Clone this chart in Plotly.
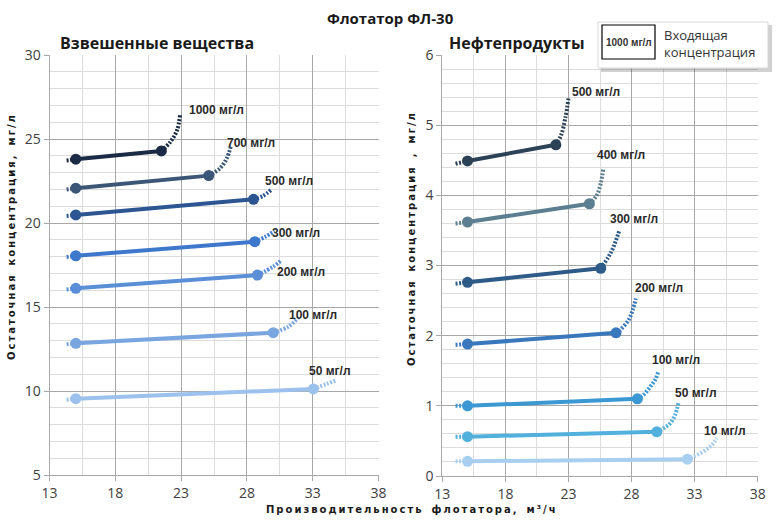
import plotly.graph_objects as go

# --- data ---
# Взвешенные вещества (left panel)
ss_labels = ["1000 мг/л", "700 мг/л", "500 мг/л", "300 мг/л", "200 мг/л", "100 мг/л", "50 мг/л"]
ss_colors = ["#1b2b45", "#3b5677", "#2c5592", "#3d78cc", "#5a8fd8", "#7aa6e0", "#9cc1ec"]
ss_stub_x = [14.3, 14.3, 14.3, 14.3, 14.3, 14.3, 14.3]
ss_stub_y = [23.72, 22.0, 20.42, 17.98, 16.04, 12.78, 9.48]
ss_x0 = [15, 15, 15, 15, 15, 15, 15]
ss_y0 = [23.8, 22.07, 20.48, 18.05, 16.11, 12.84, 9.54]
ss_x1 = [21.5, 25.1, 28.5, 28.6, 28.8, 30.0, 33.05]
ss_y1 = [24.29, 22.82, 21.41, 18.89, 16.9, 13.47, 10.12]
ss_tail_x = [[22.2, 22.7, 22.92], [25.96, 26.47, 26.79], [29.2, 29.88], [29.37, 30.1],
             [30.0, 30.64], [31.15, 31.91], [34.06, 34.82]]
ss_tail_y = [[24.84, 25.54, 26.43], [23.26, 23.85, 24.6], [21.6, 22.0], [19.17, 19.52],
             [17.4, 17.8], [13.83, 14.38], [10.42, 10.65]]
ss_lab_x = [23.45, 26.32, 29.21, 29.74, 30.12, 31.04, 32.56]
ss_lab_y = [26.73, 24.76, 22.5, 19.4, 17.1, 14.52, 11.19]

# Нефтепродукты (right panel)
np_labels = ["500 мг/л", "400 мг/л", "300 мг/л", "200 мг/л", "100 мг/л", "50 мг/л", "10 мг/л"]
np_colors = ["#2c4256", "#5b7e90", "#2d5a86", "#3a78bd", "#3b98d3", "#52b0dc", "#a9cff0"]
np_stub_x = [14.05, 14.05, 14.05, 14.05, 14.05, 14.05, 14.05]
np_stub_y = [4.45, 3.6, 2.74, 1.87, 1.0, 0.56, 0.21]
np_x0 = [15, 15, 15, 15, 15, 15, 15]
np_y0 = [4.49, 3.62, 2.76, 1.88, 1.0, 0.56, 0.21]
np_x1 = [22.0, 24.66, 25.56, 26.77, 28.46, 30.0, 32.43]
np_y1 = [4.72, 3.88, 2.96, 2.04, 1.1, 0.63, 0.24]
np_tail_x = [[22.4, 22.75, 23.0], [25.24, 25.56, 25.77], [26.16, 26.54, 27.05],
             [27.09, 27.75, 28.1, 28.34], [28.94, 29.47, 29.87, 30.13],
             [30.53, 31.06, 31.45, 31.71], [32.9, 33.7, 34.36, 34.76]]
np_tail_y = [[4.85, 5.1, 5.38], [4.0, 4.17, 4.39], [3.12, 3.25, 3.51],
             [2.08, 2.22, 2.37, 2.53], [1.155, 1.27, 1.37, 1.49],
             [0.68, 0.75, 0.87, 1.04], [0.275, 0.35, 0.44, 0.54]]
np_lab_x = [23.13, 25.11, 26.14, 28.12, 29.47, 31.3, 33.59]
np_lab_y = [5.47, 4.575, 3.66, 2.68, 1.65, 1.18, 0.64]

x_ticks = [13, 18, 23, 28, 33, 38]

W, H = 780, 520
DOT = "2px,1.6px"


def px_x(p):
    return p / W


def px_y(p):
    return 1 - p / H


def spaced(s):
    # wide letter spacing like the original axis titles
    return "\u2002\u2002".join("\u2009".join(w) for w in s.split(" "))


fig = go.Figure()


def add_panel(xa, ya, colors, stub_x, stub_y, x0, y0, x1, y1, tail_x, tail_y, labels, lab_x, lab_y):
    for i in range(len(labels)):
        c = colors[i]
        fig.add_trace(go.Scatter(x=[stub_x[i], x0[i]], y=[stub_y[i], y0[i]], mode="lines",
                                 line=dict(color=c, width=4, dash=DOT), xaxis=xa, yaxis=ya,
                                 hoverinfo="skip"))
        fig.add_trace(go.Scatter(x=[x1[i]] + tail_x[i], y=[y1[i]] + tail_y[i], mode="lines",
                                 line=dict(color=c, width=4, dash=DOT, shape="spline"),
                                 xaxis=xa, yaxis=ya, hoverinfo="skip"))
        fig.add_trace(go.Scatter(x=[x0[i], x1[i]], y=[y0[i], y1[i]], mode="lines+markers",
                                 line=dict(color=c, width=4), marker=dict(size=11, color=c),
                                 xaxis=xa, yaxis=ya, name=labels[i]))
        fig.add_annotation(x=lab_x[i], y=lab_y[i], xref=xa, yref=ya, text="<b>" + labels[i] + "</b>",
                           showarrow=False, xanchor="left", yanchor="middle",
                           font=dict(family="Liberation Sans", size=12, color="#2a2a2a"))


add_panel("x", "y", ss_colors, ss_stub_x, ss_stub_y, ss_x0, ss_y0, ss_x1, ss_y1,
          ss_tail_x, ss_tail_y, ss_labels, ss_lab_x, ss_lab_y)
add_panel("x2", "y2", np_colors, np_stub_x, np_stub_y, np_x0, np_y0, np_x1, np_y1,
          np_tail_x, np_tail_y, np_labels, np_lab_x, np_lab_y)

tick_font = dict(family="Open Sans", size=14, color="#404040")
axis_common = dict(showgrid=True, gridcolor="#a8a8a8", gridwidth=1, zeroline=False,
                   showline=True, linecolor="#a8a8a8", ticks="outside", ticklen=5,
                   tickcolor="#a8a8a8", tickfont=tick_font, automargin=False)

fig.update_layout(
    width=W, height=H, autosize=False,
    margin=dict(l=0, r=0, t=0, b=0, pad=0),
    paper_bgcolor="white", plot_bgcolor="white",
    showlegend=False,
    xaxis=dict(domain=[px_x(49.5), px_x(378.5)], range=[13, 38], tickvals=x_ticks, anchor="y",
               minor=dict(dtick=2.5, tick0=13, showgrid=True, gridcolor="#dcdcdc"), **axis_common),
    yaxis=dict(domain=[px_y(475), px_y(55)], range=[5, 30], dtick=5, tick0=5, anchor="x",
               minor=dict(dtick=1, showgrid=True, gridcolor="#dcdcdc"), **axis_common),
    xaxis2=dict(domain=[px_x(442.3), px_x(757.7)], range=[13, 38], tickvals=x_ticks, anchor="y2",
                minor=dict(dtick=2.5, tick0=13, showgrid=True, gridcolor="#dcdcdc"), **axis_common),
    yaxis2=dict(domain=[px_y(476), px_y(55)], range=[0, 6], dtick=1, tick0=0, anchor="x2",
                minor=dict(dtick=0.2, showgrid=True, gridcolor="#dcdcdc"), **axis_common),
)


def note(x, y, text, font, **kw):
    opts = dict(xanchor="center", yanchor="middle")
    opts.update(kw)
    fig.add_annotation(x=px_x(x), y=px_y(y), xref="paper", yref="paper", showarrow=False,
                       text=text, font=font, **opts)


note(390, 18, "<b>Флотатор ФЛ-30</b>", dict(family="Open Sans", size=15, color="#1a1a1a"))
note(58, 43, "<b>Взвешенные вещества</b>", dict(family="Open Sans", size=16, color="#1a1a1a"), xanchor="left")
note(447, 43, "<b>Нефтепродукты</b>", dict(family="Open Sans", size=16, color="#1a1a1a"), xanchor="left")

ax_font = dict(family="DejaVu Sans", size=10, color="#1a1a1a")
note(12, 238, "<b>" + spaced("Остаточная концентрация, мг/л") + "</b>", ax_font, textangle=-90)
note(411, 240, "<b>" + spaced("Остаточная концентрация , мг/л") + "</b>", ax_font, textangle=-90)
note(411, 509, "<b>" + spaced("Производительность флотатора, м³/ч") + "</b>", ax_font)

# legend box with shadow
fig.add_shape(type="rect", xref="paper", yref="paper", x0=px_x(601), x1=px_x(772), y0=px_y(72), y1=px_y(25),
              fillcolor="rgba(0,0,0,0.18)", line=dict(width=0))
fig.add_shape(type="rect", xref="paper", yref="paper", x0=px_x(598), x1=px_x(768), y0=px_y(68), y1=px_y(22),
              fillcolor="white", line=dict(color="#d8d8d8", width=1))
fig.add_shape(type="rect", xref="paper", yref="paper", x0=px_x(602), x1=px_x(655), y0=px_y(59), y1=px_y(25),
              fillcolor="white", line=dict(color="black", width=1.2))
note(628.5, 42, "<b>1000 мг/л</b>", dict(family="Liberation Sans Narrow, Liberation Sans", size=10, color="#333"))
note(662, 43, "Входящая<br>концентрация", dict(family="Open Sans", size=13, color="#333"),
     xanchor="left", align="left")

# the page's default body margin would shift the fixed-size figure
fig.write_html("out.html", config={"displayModeBar": False},
               post_script="document.body.style.margin='0';")
